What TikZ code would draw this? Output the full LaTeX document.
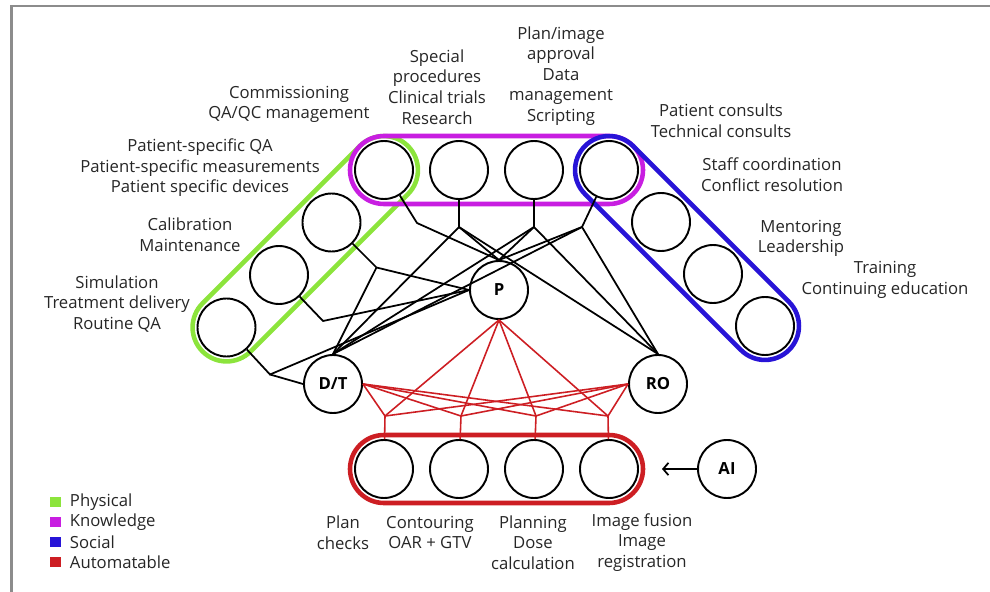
\documentclass[tikz,border=0pt]{standalone}
\usepackage{fontspec}
\setmainfont{Open Sans}
\usepackage{tikz}
\usetikzlibrary{arrows.meta, calc, positioning}
\definecolor{physGreen}{RGB}{140,228,60}
\definecolor{knowPurple}{RGB}{200,30,225}
\definecolor{socBlue}{RGB}{40,20,215}
\definecolor{autoRed}{RGB}{205,30,35}
\definecolor{frameGray}{RGB}{140,140,140}
\tikzset{
  task/.style={circle, draw, line width=1.1pt, minimum size=1.16cm, inner sep=0pt},
  role/.style={task, font=\fontsize{9.5}{11.7}\selectfont\bfseries},
  grp/.style={rectangle, line width=2.6pt, minimum height=1.36cm, rounded corners=0.68cm, inner sep=0pt},
  link/.style={line width=1pt},
  autolink/.style={line width=0.9pt, draw=autoRed},
  lbl/.style={align=center, font=\fontsize{9.5}{11.7}\selectfont, text=black!85},
  legsq/.style={minimum size=0.21cm, inner sep=0pt},
  legtxt/.style={lbl, anchor=west, inner sep=2pt},
}

\begin{document}
\begin{tikzpicture}
  \useasboundingbox (0,0) rectangle (19.8,-11.84);
  \draw[frameGray, line width=1.2pt] (0.23,-11.84) -- (0.23,-0.12) -- (19.8,-0.12);

  % knowledge row
  \node[task] (qaqc) at (7.68,-3.4) {};
  \node[task] (spec) at (9.18,-3.4) {};
  \node[task] (approv) at (10.68,-3.4) {};
  \node[task] (consult) at (12.18,-3.4) {};
  % physical diagonal
  \node[task] (psqa) at (6.63,-4.45) {};
  \node[task] (calib) at (5.58,-5.5) {};
  \node[task] (simul) at (4.53,-6.55) {};
  % social diagonal
  \node[task] (staff) at (13.22,-4.44) {};
  \node[task] (mentor) at (14.26,-5.48) {};
  \node[task] (train) at (15.30,-6.52) {};
  % automatable row
  \node[task] (plchk) at (7.68,-9.38) {};
  \node[task] (contour) at (9.18,-9.38) {};
  \node[task] (dosecalc) at (10.68,-9.38) {};
  \node[task] (imgfus) at (12.18,-9.38) {};

  \node[role] (phys) at (9.98,-5.8) {P};
  \node[role] (dostr) at (6.66,-7.68) {D/T};
  \node[role] (radonc) at (13.16,-7.68) {RO};
  \node[role] (ai) at (14.54,-9.38) {AI};

  \node[grp, draw=physGreen, minimum width=5.81cm, rotate=45] (physbox) at ($(qaqc)!.5!(simul)$) {};
  \node[grp, draw=knowPurple, minimum width=5.86cm] (knowbox) at ($(qaqc)!.5!(consult)$) {};
  \node[grp, draw=socBlue, minimum width=5.77cm, rotate=-45] (socbox) at ($(consult)!.5!(train)$) {};
  \node[grp, draw=autoRed, minimum width=5.86cm] (autobox) at ($(plchk)!.5!(imgfus)$) {};

  % junctions
  \coordinate (jq) at (8.34,-4.46);
  \coordinate (js) at (9.18,-4.54);
  \coordinate (ja) at (10.68,-4.54);
  \coordinate (jc) at (11.64,-4.54);
  \coordinate (jp) at ($(psqa)+(.9,-.9)$);
  \coordinate (jk) at ($(calib)+(.88,-.92)$);
  \coordinate (jm) at ($(simul)+(.87,-.94)$);
  \coordinate (rp) at (7.70,-8.32);
  \coordinate (rc) at (9.22,-8.32);
  \coordinate (rd) at (10.72,-8.32);
  \coordinate (ri) at (12.16,-8.32);
  \coordinate (aitip) at (13.24,-9.38);

  \draw[link] (qaqc) -- (jq) -- (phys.north);
  \draw[link] (spec) -- (js) -- (phys.north);
  \draw[link] (approv) -- (ja) -- (phys.north);
  \draw[link] (consult) -- (jc) -- (phys.north);
  \draw[link] (js) -- (dostr.north);
  \draw[link] (ja) -- (dostr.north);
  \draw[link] (jc) -- (dostr.north);
  \draw[link] (js) -- (radonc.north);
  \draw[link] (ja) -- (radonc.north);
  \draw[link] (jc) -- (radonc.north);
  \draw[link] (psqa) -- (jp) -- (phys.west);
  \draw[link] (jp) -- (dostr.north);
  \draw[link] (calib) -- (jk) -- (phys.west);
  \draw[link] (simul) -- (jm) -- (phys.west);
  \draw[link] (jm) -- (dostr.west);

  \draw[autolink] (rp) -- (plchk);
  \draw[autolink] (rc) -- (contour);
  \draw[autolink] (rd) -- (dosecalc);
  \draw[autolink] (ri) -- (imgfus);
  \draw[autolink] (phys.south) -- (rp);
  \draw[autolink] (phys.south) -- (rc);
  \draw[autolink] (phys.south) -- (rd);
  \draw[autolink] (phys.south) -- (ri);
  \draw[autolink] (dostr.east) -- (rp);
  \draw[autolink] (dostr.east) -- (rc);
  \draw[autolink] (dostr.east) -- (rd);
  \draw[autolink] (dostr.east) -- (ri);
  \draw[autolink] (radonc.west) -- (rp);
  \draw[autolink] (radonc.west) -- (rc);
  \draw[autolink] (radonc.west) -- (rd);
  \draw[autolink] (radonc.west) -- (ri);
  \draw[link, -{Straight Barb[length=3pt, width=7pt]}] (ai) -- (aitip);

  % labels
  \node[lbl] (qaqcLbl) at (5.78,-2.09) {Commissioning\\QA/QC management};
  \node[lbl] (specLbl) at (8.74,-1.74) {Special\\procedures\\Clinical trials\\Research};
  \node[lbl] (approvLbl) at (11.22,-1.52) {Plan/image\\approval\\Data\\management\\Scripting};
  \node[lbl] (consultLbl) at (14.42,-2.42) {Patient consults\\Technical consults};
  \node[lbl] (staffLbl) at (15.44,-3.49) {Staff coordination\\Conflict resolution};
  \node[lbl] (mentorLbl) at (16.02,-4.77) {Mentoring\\Leadership};
  \node[lbl] (trainLbl) at (17.70,-5.60) {Training\\Continuing education};
  \node[lbl] (psqaLbl) at (4.00,-3.36) {Patient-specific QA\\Patient-specific measurements\\Patient specific devices};
  \node[lbl] (calibLbl) at (3.80,-4.70) {Calibration\\Maintenance};
  \node[lbl] (simulLbl) at (2.34,-6.08) {Simulation\\Treatment delivery\\Routine QA};
  \node[lbl] (plchkLbl) at (6.86,-10.65) {Plan\\checks};
  \node[lbl] (contourLbl) at (8.60,-10.65) {Contouring\\OAR + GTV};
  \node[lbl] (dosecalcLbl) at (10.66,-10.85) {Planning\\Dose\\calculation};
  \node[lbl] (imgfusLbl) at (12.84,-10.85) {Image fusion\\Image\\registration};

  % legend
  \node[legsq, fill=physGreen] (sqPhys) at (1.11,-10.04) {};
  \node[legsq, fill=knowPurple] (sqKnow) at (1.11,-10.44) {};
  \node[legsq, fill=socBlue] (sqSoc) at (1.11,-10.84) {};
  \node[legsq, fill=autoRed] (sqAuto) at (1.11,-11.24) {};
  \node[legtxt, right=0.1cm of sqPhys] (txtPhys) {Physical};
  \node[legtxt, right=0.1cm of sqKnow] (txtKnow) {Knowledge};
  \node[legtxt, right=0.1cm of sqSoc] (txtSoc) {Social};
  \node[legtxt, right=0.1cm of sqAuto] (txtAuto) {Automatable};
\end{tikzpicture}
\end{document}
